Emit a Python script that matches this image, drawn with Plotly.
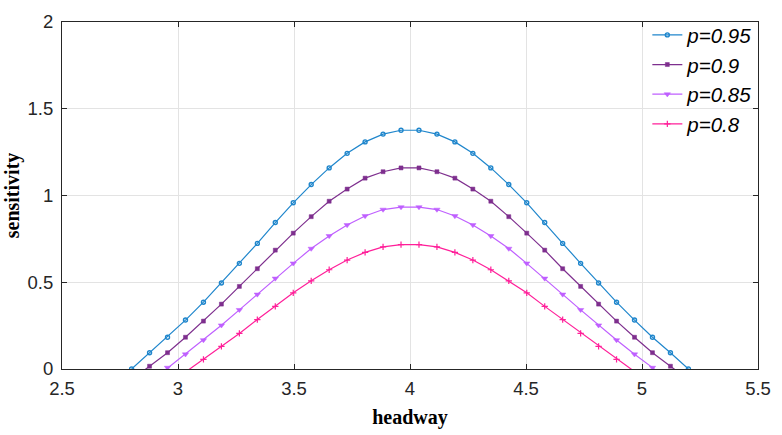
import numpy as np
import plotly.graph_objects as go

# headway sample grid shared by all curves
headway = np.linspace(2.8, 5.2, 32)

sens_095 = [0.000, 0.094, 0.183, 0.282, 0.385, 0.496, 0.609, 0.724,
            0.844, 0.958, 1.063, 1.159, 1.243, 1.309, 1.354, 1.376,
            1.376, 1.354, 1.309, 1.243, 1.159, 1.063, 0.958, 0.844,
            0.724, 0.609, 0.496, 0.385, 0.282, 0.183, 0.094, 0.000]
sens_090 = [-0.062, 0.016, 0.094, 0.183, 0.276, 0.374, 0.476, 0.578,
            0.685, 0.783, 0.878, 0.967, 1.037, 1.100, 1.137, 1.159,
            1.159, 1.137, 1.100, 1.037, 0.967, 0.878, 0.783, 0.685,
            0.578, 0.476, 0.374, 0.276, 0.183, 0.094, 0.016, -0.062]
sens_085 = [-0.160, -0.078, 0.008, 0.085, 0.167, 0.252, 0.341, 0.430,
            0.522, 0.609, 0.694, 0.767, 0.830, 0.882, 0.919, 0.933,
            0.933, 0.919, 0.882, 0.830, 0.767, 0.694, 0.609, 0.522,
            0.430, 0.341, 0.252, 0.167, 0.085, 0.008, -0.078, -0.160]
sens_080 = [-0.240, -0.166, -0.092, -0.018, 0.055, 0.130, 0.205, 0.285,
            0.361, 0.439, 0.508, 0.572, 0.628, 0.672, 0.704, 0.717,
            0.717, 0.704, 0.672, 0.628, 0.572, 0.508, 0.439, 0.361,
            0.285, 0.205, 0.130, 0.055, -0.018, -0.092, -0.166, -0.240]

labels = ["p=0.95", "p=0.9", "p=0.85", "p=0.8"]
x_ticks = [2.5, 3, 3.5, 4, 4.5, 5, 5.5]
y_ticks = [0, 0.5, 1, 1.5, 2]

series = [sens_095, sens_090, sens_085, sens_080]
colors = ["#1f86cc", "#7e2f8e", "#bf5fff", "#ff1f99"]
symbols = ["circle-open", "square", "triangle-down", "cross-thin-open"]
sizes = [4, 4, 5.5, 4.5]
mline = [1.4, 0.5, 0.5, 1.2]

fig = go.Figure()
for i, (vals, name) in enumerate(zip(series, labels)):
    fig.add_trace(go.Scatter(
        x=headway, y=vals, name=name, mode="lines+markers",
        legendgroup=name,
        line=dict(color=colors[i], width=1.2),
        marker=dict(symbol=symbols[i], size=sizes[i], color=colors[i],
                    line=dict(color=colors[i], width=mline[i])),
        cliponaxis=True,
    ))

axis_common = dict(
    showline=True, linecolor="#262626", linewidth=1, mirror="ticks",
    ticks="inside", ticklen=5, tickcolor="#262626", tickwidth=1,
    showgrid=True, gridcolor="#e3e3e3", gridwidth=1, zeroline=False,
    tickfont=dict(family="Liberation Sans", size=18.5, color="#262626"),
)

fig.update_xaxes(
    range=[2.5, 5.5], tickvals=x_ticks, ticktext=[str(v) for v in x_ticks],
    ticklabelstandoff=3,
    title=dict(text="headway", standoff=11,
               font=dict(family="Liberation Serif", size=20, color="black",
                         weight="bold")),
    **axis_common,
)
fig.update_yaxes(
    range=[0, 2], tickvals=y_ticks, ticktext=[str(v) for v in y_ticks],
    ticklabelstandoff=4,
    title=dict(text="sensitivity", standoff=2,
               font=dict(family="Liberation Serif", size=20, color="black",
                         weight="bold")),
    **axis_common,
)

# white backing behind the legend entries (above grid, below curves)
fig.add_shape(type="rect", xref="paper", yref="y", x0=0.834, x1=0.999,
              y0=1.53, y1=1.965, fillcolor="white", line=dict(width=0),
              layer="between")

fig.update_layout(
    width=782, height=435,
    margin=dict(l=62, r=17, t=11, b=65),
    paper_bgcolor="white", plot_bgcolor="white",
    showlegend=True,
    legend=dict(
        x=0.841, y=1.02, xanchor="left", yanchor="top",
        bgcolor="rgba(0,0,0,0)", borderwidth=0, tracegroupgap=0,
        font=dict(family="Liberation Sans", size=20.5, color="black",
                  style="italic"),
    ),
)

fig.write_html("out.html")
